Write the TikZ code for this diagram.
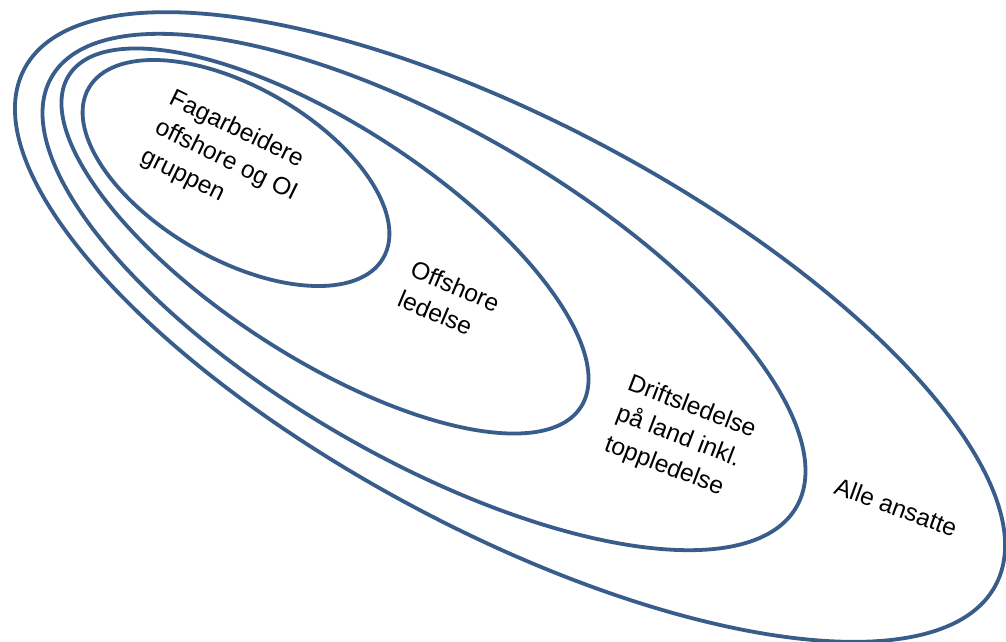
\documentclass[tikz,border=0pt]{standalone}
\usepackage{fontspec}
\setmainfont{Liberation Sans}
\begin{document}
\begin{tikzpicture}[x=1pt,y=-1pt,
  ring/.style={draw=ringblue,line width=3.8pt},
  label/.style={align=left,font=\fontsize{24.5}{32.5}\selectfont,inner sep=0pt}]
\definecolor{ringblue}{HTML}{385D8A}
\useasboundingbox[fill=white] (0,0) rectangle (1006,641);
% nested groups, from the widest to the narrowest
\draw[ring,rotate around={-28:(510,327)}] (510,327) ellipse [x radius=550pt,y radius=204pt];
\draw[ring,rotate around={-30:(424,292)}] (424,292) ellipse [x radius=430pt,y radius=165pt];
\draw[ring,rotate around={-33:(325,241)}] (325,241) ellipse [x radius=305pt,y radius=116pt];
\draw[ring,rotate around={-30:(236,173)}] (236,173) ellipse [x radius=170pt,y radius=86pt];
% group names
\node[label,rotate=-26] (fag) at (226,161) {Fagarbeidere\\offshore og OI\\gruppen};
\node[label,rotate=-23] (off) at (449,301) {Offshore\\ledelse};
\node[label,rotate=-21] (drift) at (680,438) {Driftsledelse\\på land inkl.\\toppledelse};
\node[label,rotate=-20] (alle) at (896,507) {Alle ansatte};
\end{tikzpicture}
\end{document}
